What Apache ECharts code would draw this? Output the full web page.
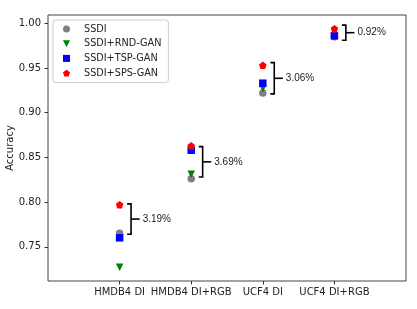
<!DOCTYPE html>
<html>
<head>
<meta charset="utf-8">
<script src="https://cdn.jsdelivr.net/npm/echarts@6/dist/echarts.min.js"></script>
<style>html,body{margin:0;padding:0;background:#fff}#c{width:417px;height:309px}</style>
</head>
<body>
<div id="c"></div>
<script>
// ---- data ----
var categories = ['HMDB4 DI', 'HMDB4 DI+RGB', 'UCF4 DI', 'UCF4 DI+RGB'];
var seriesNames = ['SSDI', 'SSDI+RND-GAN', 'SSDI+TSP-GAN', 'SSDI+SPS-GAN'];
var ssdi   = [0.765, 0.826, 0.922, 0.985];
var rndGan = [0.727, 0.831, 0.927, 0.985];
var tspGan = [0.760, 0.858, 0.933, 0.986];
var spsGan = [0.797, 0.863, 0.953, 0.994];
var bracketTop    = [0.798, 0.862, 0.956, 0.998];
var bracketBottom = [0.764, 0.828, 0.921, 0.981];
var gainLabels = ['3.19%', '3.69%', '3.06%', '0.92%'];
var yTicks = [0.75, 0.80, 0.85, 0.90, 0.95, 1.00];

// ---- chart ----
var colors = ['#808080', '#008000', '#0000ff', '#ff0000'];
var symbols = ['circle', 'path://M0,0L2,0L1,2Z', 'rect',
  'path://M1,0L1.951,0.691L1.588,1.809L0.412,1.809L0.049,0.691Z'];
var allValues = [ssdi, rndGan, tspGan, spsGan];
var font = 'DejaVu Sans';

var scatterSeries = seriesNames.map(function (name, i) {
  return {
    name: name,
    type: 'scatter',
    symbol: symbols[i],
    symbolSize: 7.5,
    itemStyle: { color: colors[i], opacity: 1 },
    emphasis: { disabled: true },
    data: allValues[i].map(function (v, k) { return [k, v]; }),
    z: 3 + i
  };
});

var bracketSeries = {
  type: 'custom',
  silent: true,
  z: 10,
  data: categories.map(function (c, k) {
    return [k, bracketTop[k], bracketBottom[k]];
  }),
  renderItem: function (params, api) {
    var x = api.value(0), top = api.value(1), bot = api.value(2);
    var mid = (top + bot) / 2;
    var a1 = api.coord([x + 0.105, top]);
    var b1 = api.coord([x + 0.16, top]);
    var b2 = api.coord([x + 0.16, bot]);
    var a2 = api.coord([x + 0.105, bot]);
    var m1 = api.coord([x + 0.16, mid]);
    var m2 = api.coord([x + 0.28, mid]);
    var style = { stroke: '#000', lineWidth: 1.6, fill: null };
    return {
      type: 'group',
      children: [
        { type: 'polyline', shape: { points: [a1, b1, b2, a2] }, style: style },
        { type: 'line', shape: { x1: m1[0], y1: m1[1], x2: m2[0], y2: m2[1] }, style: style },
        { type: 'text', x: m2[0] + 3, y: m2[1],
          style: { text: gainLabels[params.dataIndex], fill: '#222',
            font: '10px "Liberation Sans"', verticalAlign: 'middle', align: 'left' } }
      ]
    };
  }
};

var chart = echarts.init(document.getElementById('c'), null, { renderer: 'canvas' });
chart.setOption({
  animation: false,
  backgroundColor: '#fff',
  grid: { left: 48, right: 11, top: 15, bottom: 28, show: true,
    borderColor: '#444', borderWidth: 1, containLabel: false, outerBoundsMode: 'none' },
  legend: {
    orient: 'vertical', left: 53, top: 20,
    data: seriesNames.map(function (n, i) { return { name: n, icon: symbols[i] }; }),
    itemWidth: 7, itemHeight: 7, itemGap: 3.7,
    padding: [3.5, 7, 4, 10],
    borderColor: '#ccc', borderWidth: 1, borderRadius: 3,
    backgroundColor: '#fff',
    selectedMode: false,
    textStyle: { fontFamily: font, fontSize: 9.7, color: '#222', lineHeight: 11, padding: [0, 0, 0, 9] }
  },
  xAxis: {
    type: 'value', min: -1, max: 4,
    axisLine: { show: false },
    splitLine: { show: false },
    axisTick: { show: true, customValues: [0, 1, 2, 3], length: 3.5, inside: false,
      lineStyle: { color: '#333' } },
    axisLabel: { customValues: [0, 1, 2, 3], margin: 6, fontFamily: font, fontSize: 10, color: '#222',
      formatter: function (v) { return categories[Math.round(v)] || ''; } }
  },
  yAxis: {
    type: 'value', min: 0.7117, max: 1.0093,
    name: 'Accuracy', nameLocation: 'middle', nameGap: 33, nameRotate: 90,
    nameMoveOverlap: false,
    nameTextStyle: { fontFamily: font, fontSize: 10, color: '#222' },
    axisLine: { show: false, onZero: false },
    splitLine: { show: false },
    axisTick: { show: true, customValues: yTicks, length: 3.5, lineStyle: { color: '#333' } },
    axisLabel: { customValues: yTicks, margin: 7, fontFamily: font, fontSize: 10, color: '#222',
      formatter: function (v) { return v.toFixed(2); } }
  },
  series: scatterSeries.concat([bracketSeries])
});
</script>
</body>
</html>
